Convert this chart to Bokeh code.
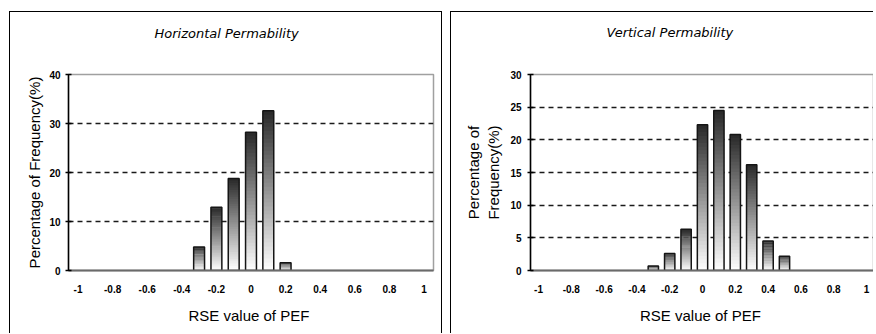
from bokeh.plotting import figure
from bokeh.models import FixedTicker, Range1d, Title
from bokeh.layouts import row
from bokeh.embed import file_html
from bokeh.resources import INLINE

# ---- data ----
x_ticks = [-1, -0.8, -0.6, -0.4, -0.2, 0, 0.2, 0.4, 0.6, 0.8, 1]
x_tick_labels = ["-1", "-0.8", "-0.6", "-0.4", "-0.2", "0", "0.2", "0.4", "0.6", "0.8", "1"]

h_bins = [-0.3, -0.2, -0.1, 0.0, 0.1, 0.2]
h_vals = [4.8, 12.9, 18.8, 28.2, 32.6, 1.6]
h_yticks = [0, 10, 20, 30, 40]

v_bins = [-0.3, -0.2, -0.1, 0.0, 0.1, 0.2, 0.3, 0.4, 0.5]
v_vals = [0.7, 2.6, 6.3, 22.3, 24.5, 20.8, 16.2, 4.5, 2.2]
v_yticks = [0, 5, 10, 15, 20, 25, 30]

BAR_W = 0.063
LAB_FONT = "Liberation Sans"
TITLE_FONT = "DejaVu Sans"


def gradient_bars(p, bins, vals, n=40):
    L, R, B, T, C = [], [], [], [], []
    for x, h in zip(bins, vals):
        for k in range(n):
            b = h * k / n
            t = min(h, h * (k + 1.4) / n)
            f = (k + 0.5) / n
            c = int(round(255 - f * (255 - 40)))
            L.append(x - BAR_W / 2)
            R.append(x + BAR_W / 2)
            B.append(b)
            T.append(t)
            C.append("#%02x%02x%02x" % (c, c, c))
    p.quad(left=L, right=R, bottom=B, top=T, fill_color=C, line_color=None)
    p.vbar(x=bins, top=vals, width=BAR_W, fill_color=None,
           line_color="#151515", line_width=1.5)


def make_panel(title, bins, vals, yticks, ymax, ylabel, width, height,
               mb_left, mb_right, mb_top, mb_bottom, xhalf,
               title_offset, spacer, ylab_standoff, ytick_standoff, border):
    p = figure(width=width, height=height, output_backend="svg",
               toolbar_location=None,
               x_range=Range1d(-xhalf, xhalf), y_range=Range1d(0, ymax),
               min_border_left=mb_left, min_border_right=mb_right,
               min_border_top=mb_top, min_border_bottom=mb_bottom,
               background_fill_color="white", border_fill_color="white",
               outline_line_color="#a0a0a0", outline_line_width=1.5)
    p.styles = border

    # title (real title farthest from the frame, spacer title next to frame)
    p.title.text = title
    p.title.text_font = TITLE_FONT
    p.title.text_font_size = "13px"
    p.title.text_font_style = "italic"
    p.title.text_color = "#000000"
    p.title.align = "left"
    p.title.offset = title_offset
    p.title.standoff = 0
    p.title.vertical_align = "bottom"
    p.add_layout(Title(text=" ", text_font_size="1px", standoff=spacer), "above")

    gradient_bars(p, bins, vals)

    # axes
    p.xaxis.ticker = FixedTicker(ticks=x_ticks)
    p.xaxis.major_label_overrides = {t: s for t, s in zip(x_ticks, x_tick_labels)}
    p.xaxis.major_tick_out = 0
    p.xaxis.major_tick_in = 0
    p.xaxis.minor_tick_line_color = None
    p.xaxis.axis_line_color = "#6a6a6a"
    p.xaxis.axis_line_width = 2
    p.xaxis.major_label_standoff = 14
    p.xaxis.axis_label = "RSE value of  PEF"
    p.xaxis.axis_label_standoff = 11

    p.yaxis.ticker = FixedTicker(ticks=yticks)
    p.yaxis.major_tick_out = 3
    p.yaxis.major_tick_in = 3
    p.yaxis.major_tick_line_width = 1.3
    p.yaxis.minor_tick_line_color = None
    p.yaxis.axis_line_color = "#000000"
    p.yaxis.axis_line_width = 1.5
    p.yaxis.major_label_standoff = ytick_standoff
    p.yaxis.axis_label = ylabel
    p.yaxis.axis_label_standoff = ylab_standoff

    for ax in (p.xaxis, p.yaxis):
        ax.major_label_text_font = LAB_FONT
        ax.major_label_text_font_size = "10px"
        ax.major_label_text_font_style = "bold"
        ax.major_label_text_color = "#000000"
        ax.axis_label_text_font = LAB_FONT
        ax.axis_label_text_font_size = "15px"
        ax.axis_label_text_font_style = "normal"
        ax.axis_label_text_color = "#000000"

    # grid
    p.xgrid.visible = False
    p.ygrid.ticker = FixedTicker(ticks=yticks[1:-1])
    p.ygrid.grid_line_color = "#1a1a1a"
    p.ygrid.grid_line_dash = "5 4"
    p.ygrid.grid_line_width = 1.6
    return p


p1 = make_panel("Horizontal Permability", h_bins, h_vals, h_yticks, 40,
                "Percentage of Frequency(%)", 433, 322,
                58, 10, 61, 64, 1.055, 86, 31, 3, 5,
                {"border-top": "1px solid #000", "border-left": "1px solid #000",
                 "border-right": "1px solid #000"})
p2 = make_panel("Vertical Permability", v_bins, v_vals, v_yticks, 30,
                "Percentage of\nFrequency(%)", 423, 322,
                79, 0, 62, 64, 1.049, 76, 32, 5, 6,
                {"border-top": "1px solid #000", "border-left": "1px solid #000"})

layout = row(p1, p2, spacing=8)
layout.styles = {"margin-top": "11px", "margin-left": "9px"}

open("out.html", "w").write(file_html(layout, INLINE))
